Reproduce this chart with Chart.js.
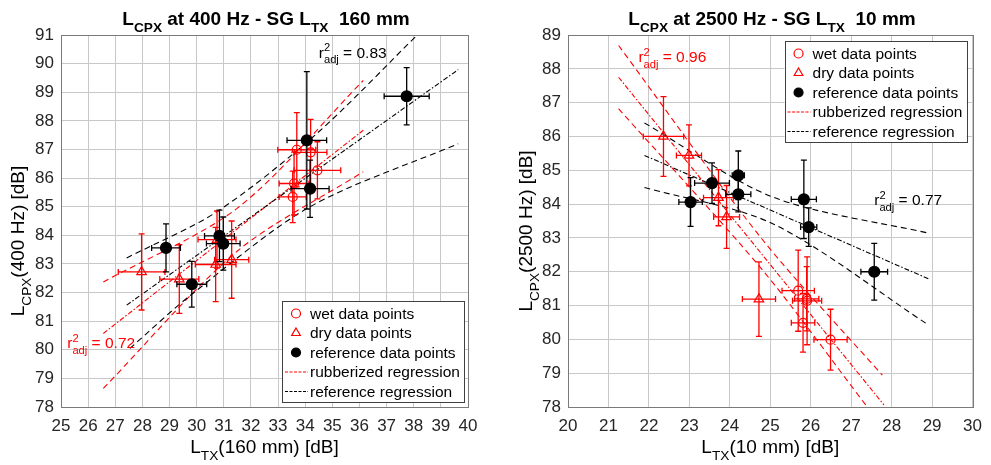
<!DOCTYPE html>
<html>
<head>
<meta charset="utf-8">
<script src="https://cdn.jsdelivr.net/npm/chart.js@4.4.1/dist/chart.umd.min.js"></script>
<style>
	body { margin:0; background:#fff; width:991px; height:465px; overflow:hidden; position:relative; }
	canvas { position:absolute; top:0; }
	#c400 { left:0; }
	#c2500 { left:495px; }
</style>
</head>
<body>
<canvas id="c400" width="495" height="465"></canvas>
<canvas id="c2500" width="496" height="465"></canvas>
<script>
// ---- data: [x, y, x error, y error] ----

// 400 Hz vs L_TX(160 mm)
const wet400 = [
	[33.69, 86.99, 0.70, 1.30],
	[34.20, 86.90, 0.60, 1.15],
	[34.45, 86.27, 0.86, 1.00],
	[33.59, 85.81, 0.55, 1.10],
	[33.54, 85.34, 0.50, 0.90]
];
const dry400 = [
	[27.97, 82.72, 0.86, 1.33],
	[29.36, 82.47, 0.72, 1.20],
	[30.70, 82.98, 0.75, 1.30],
	[31.29, 83.15, 0.63, 1.35],
	[30.75, 83.85, 0.70, 1.00]
];
const ref400 = [
	[28.87, 83.56, 0.53, 0.84],
	[29.82, 82.29, 0.55, 0.80],
	[30.84, 83.98, 0.55, 0.90],
	[30.98, 83.71, 0.62, 0.93],
	[34.06, 87.32, 0.73, 2.40],
	[34.18, 85.63, 0.70, 1.00],
	[37.74, 88.86, 0.83, 1.00]
];
const rubFit400 = [[26.56, 80.57], [36.14, 87.67]];
const rubHi400 = [[26.56, 82.37], [31.5, 84.95], [36.14, 89.41]];
const rubLo400 = [[26.56, 78.65], [31.5, 83.45], [36.14, 86.22]];
const refFit400 = [[27.42, 81.56], [39.64, 89.79]];
const refHi400 = [[27.42, 83.21], [30.74, 84.82], [34.42, 87.55], [38.17, 91.04]];
const refLo400 = [[27.54, 80.05], [29.82, 81.94], [34.18, 85.00], [39.64, 87.20]];

// 2500 Hz vs L_TX(10 mm)
const wet2500 = [
	[25.69, 81.44, 0.40, 1.20],
	[25.91, 81.14, 0.36, 1.30],
	[25.90, 81.20, 0.30, 0.95],
	[25.81, 80.49, 0.29, 0.87],
	[26.49, 79.99, 0.41, 0.90]
];
const dry2500 = [
	[22.36, 86.00, 0.50, 1.18],
	[22.99, 85.44, 0.31, 0.90],
	[23.72, 84.19, 0.37, 0.83],
	[23.92, 83.62, 0.32, 0.93],
	[24.72, 81.19, 0.41, 1.10]
];
const ref2500 = [
	[23.03, 84.06, 0.29, 0.72],
	[23.56, 84.62, 0.43, 0.60],
	[24.21, 84.85, 0.15, 0.72],
	[24.21, 84.29, 0.31, 0.52],
	[25.83, 84.14, 0.31, 1.16],
	[25.95, 83.32, 0.20, 0.57],
	[27.57, 82.00, 0.33, 0.84]
];
const rubFit2500 = [[21.25, 87.75], [27.81, 78.06]];
const rubHi2500 = [[21.25, 88.69], [24.8, 82.96], [27.77, 78.94]];
const rubLo2500 = [[21.25, 86.82], [24.8, 82.06], [27.36, 78.06]];
const refFit2500 = [[21.89, 85.44], [28.95, 81.77]];
const refHi2500 = [[21.89, 86.40], [25.06, 84.21], [28.95, 83.13]];
const refLo2500 = [[21.89, 84.49], [25.06, 83.42], [28.88, 80.45]];

const legendLabels = ['wet data points', 'dry data points', 'reference data points', 'rubberized regression', 'reference regression'];

const RED = '#ff0000';
const BLK = '#000000';
const FONT = "'Liberation Sans', Arial, Helvetica, sans-serif";
const DASH = [6, 4];
const DASHDOT = [5, 2, 1.5, 2];

Chart.defaults.font.family = FONT;

function font(size, bold) {
	return (bold ? 'bold ' : '') + size + 'px ' + FONT;
}

// text with sub/superscripts: plain strings, {sub}, {sup, sub}
function drawRich(ctx, parts, x, y, size, opt) {
	let w = 0, segs = [], ss = size * 0.72;
	parts.forEach((p) => {
		if (typeof p === 'string') {
			ctx.font = font(size, opt.bold);
			segs.push({ t: p, x: w, dy: 0, f: font(size, opt.bold) });
			w += ctx.measureText(p).width;
		} else {
			ctx.font = font(ss, opt.bold);
			let adv = 0;
			if (p.sup) {
				segs.push({ t: p.sup, x: w, dy: -size * 0.42, f: font(ss, opt.bold) });
				adv = Math.max(adv, ctx.measureText(p.sup).width);
			}
			if (p.sub) {
				segs.push({ t: p.sub, x: w, dy: size * 0.36, f: font(ss, opt.bold) });
				adv = Math.max(adv, ctx.measureText(p.sub).width);
			}
			w += adv;
		}
	});
	let x0 = opt.align === 'center' ? x - w / 2 : x;
	ctx.fillStyle = opt.color || '#000';
	ctx.textAlign = 'left';
	ctx.textBaseline = 'alphabetic';
	segs.forEach((s) => {
		ctx.font = s.f;
		ctx.fillText(s.t, x0 + s.x, y + s.dy);
	});
}

function marker(ctx, style, x, y, r, color, filled) {
	ctx.beginPath();
	if (style === 'triangle') {
		let a = 0;
		ctx.moveTo(x + Math.sin(a) * r, y - Math.cos(a) * r);
		a += Math.PI * 2 / 3;
		ctx.lineTo(x + Math.sin(a) * r, y - Math.cos(a) * r);
		a += Math.PI * 2 / 3;
		ctx.lineTo(x + Math.sin(a) * r, y - Math.cos(a) * r);
		ctx.closePath();
	} else {
		ctx.arc(x, y, r, 0, Math.PI * 2);
	}
	if (filled) { ctx.fillStyle = color; ctx.fill(); }
	ctx.strokeStyle = color;
	ctx.lineWidth = 1.2;
	ctx.stroke();
}

const errorBars = {
	id: 'errorBars',
	beforeDatasetDraw(chart, args) {
		let ds = chart.data.datasets[args.index];
		if (!ds.err) return;
		let sx = chart.scales.x, sy = chart.scales.y, ctx = chart.ctx, c = 3;
		ctx.save();
		ctx.strokeStyle = ds.errColor;
		ctx.lineWidth = 1.3;
		ds.err.forEach(([x, y, ex, ey]) => {
			let px = sx.getPixelForValue(x), py = sy.getPixelForValue(y);
			let x0 = sx.getPixelForValue(x - ex), x1 = sx.getPixelForValue(x + ex);
			let y0 = sy.getPixelForValue(y - ey), y1 = sy.getPixelForValue(y + ey);
			ctx.beginPath();
			ctx.moveTo(x0, py); ctx.lineTo(x1, py);
			ctx.moveTo(x0, py - c); ctx.lineTo(x0, py + c);
			ctx.moveTo(x1, py - c); ctx.lineTo(x1, py + c);
			ctx.moveTo(px, y0); ctx.lineTo(px, y1);
			ctx.moveTo(px - c, y0); ctx.lineTo(px + c, y0);
			ctx.moveTo(px - c, y1); ctx.lineTo(px + c, y1);
			ctx.stroke();
		});
		ctx.restore();
	}
};

function pts(a) {
	return a.map((p) => ({ x: p[0], y: p[1] }));
}
function markerSet(label, a, style, color, filled, r) {
	return {
		label, data: pts(a), err: a, errColor: color, showLine: false,
		pointStyle: style, pointRadius: r, pointBorderWidth: 1.2,
		pointBackgroundColor: filled ? color : 'rgba(0,0,0,0)', pointBorderColor: color
	};
}
function lineSet(label, a, color, dash, tension) {
	return {
		label, data: pts(a), showLine: true, borderColor: color, borderWidth: 1.1,
		borderDash: dash, pointRadius: 0, fill: false, tension: tension || 0
	};
}

function makeDecor(p) {
	return {
		id: 'decor',
		afterDatasetsDraw(chart) {
			let ctx = chart.ctx, a = chart.chartArea, sx = chart.scales.x, sy = chart.scales.y;
			ctx.save();
			// axes box
			ctx.strokeStyle = '#7a7a7a';
			ctx.lineWidth = 1;
			ctx.strokeRect(Math.round(a.left) + 0.5, Math.round(a.top) + 0.5,
				Math.round(a.right - a.left), Math.round(a.bottom - a.top));

			// r^2 notes
			p.notes.forEach((n) => {
				drawRich(ctx, ['r', { sup: '2', sub: 'adj' }, n.text],
					sx.getPixelForValue(n.at[0]), sy.getPixelForValue(n.at[1]), 15.5, { color: n.color });
			});

			// legend box
			let w = 182, h = 101;
			let L = p.legend.right ? a.right - p.legend.right - w : a.left + p.legend.left;
			let T = p.legend.bottom ? a.bottom - p.legend.bottom - h : a.top + p.legend.top;
			ctx.fillStyle = '#fff';
			ctx.fillRect(L, T, w, h);
			ctx.strokeStyle = '#404040';
			ctx.strokeRect(Math.round(L) + 0.5, Math.round(T) + 0.5, w, h);
			let rows = [
				{ kind: 'circle', color: RED, filled: false },
				{ kind: 'triangle', color: RED, filled: false },
				{ kind: 'circle', color: BLK, filled: true },
				{ kind: 'line', color: RED },
				{ kind: 'line', color: BLK }
			];
			rows.forEach((r, i) => {
				let cy = T + 12.5 + i * 19.5;
				if (r.kind === 'line') {
					ctx.save();
					ctx.strokeStyle = r.color;
					ctx.lineWidth = 1.1;
					ctx.setLineDash([3, 1.5]);
					ctx.beginPath();
					ctx.moveTo(L + 3, cy);
					ctx.lineTo(L + 26, cy);
					ctx.stroke();
					ctx.restore();
				} else {
					marker(ctx, r.kind, L + 14, cy, r.kind === 'triangle' ? 5 : 4.5, r.color, r.filled);
				}
				ctx.fillStyle = '#000';
				ctx.font = font(15.5);
				ctx.textAlign = 'left';
				ctx.textBaseline = 'middle';
				ctx.fillText(legendLabels[i], L + 28, cy + 1);
			});

			// title and axis labels
			drawRich(ctx, p.title, p.titleX, 25, 19, { bold: true, align: 'center' });
			drawRich(ctx, p.xTitle, (a.left + a.right) / 2, 453, 19, { align: 'center' });
			ctx.translate(p.yTitleX, p.yTitleY);
			ctx.rotate(-Math.PI / 2);
			drawRich(ctx, p.yTitle, 0, 0, 19, { align: 'center' });
			ctx.restore();
		}
	};
}

function makePanel(p) {
	let datasets = [
		markerSet('reference data points', p.ref, 'circle', BLK, true, 5.5),
		markerSet('dry data points', p.dry, 'triangle', RED, false, 5.5),
		markerSet('wet data points', p.wet, 'circle', RED, false, 4.5),
		lineSet('reference regression', p.refFit, BLK, DASHDOT),
		lineSet('reference upper', p.refHi, BLK, DASH, 0.3),
		lineSet('reference lower', p.refLo, BLK, DASH, 0.3),
		lineSet('rubberized regression', p.rubFit, RED, DASHDOT),
		lineSet('rubberized upper', p.rubHi, RED, DASH, 0.3),
		lineSet('rubberized lower', p.rubLo, RED, DASH, 0.3)
	];
	let tickFont = { size: 17, family: FONT };
	return new Chart(document.getElementById(p.id), {
		type: 'scatter',
		data: { datasets },
		plugins: [errorBars, makeDecor(p)],
		options: {
			responsive: false,
			animation: false,
			devicePixelRatio: 1,
			events: [],
			layout: { padding: p.pad },
			plugins: { legend: { display: false }, tooltip: { enabled: false }, title: { display: false } },
			scales: {
				x: {
					type: 'linear', min: p.xMin, max: p.xMax,
					ticks: { stepSize: 1, font: tickFont, color: '#262626', padding: 9, maxRotation: 0, autoSkip: false },
					grid: { color: '#c8c8c8', drawTicks: false },
					border: { display: false },
					afterFit(s) { s.height = p.xH; }
				},
				y: {
					type: 'linear', min: p.yMin, max: p.yMax,
					ticks: { stepSize: 1, font: tickFont, color: '#262626', padding: 7, autoSkip: false },
					grid: { color: '#c8c8c8', drawTicks: false },
					border: { display: false },
					afterFit(s) { s.width = p.yW; }
				}
			}
		}
	});
}

makePanel({
	id: 'c400', xMin: 25, xMax: 40, yMin: 78, yMax: 91,
	wet: wet400, dry: dry400, ref: ref400,
	rubFit: rubFit400, rubHi: rubHi400, rubLo: rubLo400,
	refFit: refFit400, refHi: refHi400, refLo: refLo400,
	pad: { left: 0, top: 35, right: 27, bottom: 0 }, yW: 61, xH: 58,
	title: ['L', { sub: 'CPX' }, ' at 400 Hz - SG L', { sub: 'TX' }, '  160 mm'],
	xTitle: ['L', { sub: 'TX' }, '(160 mm) [dB]'],
	yTitle: ['L', { sub: 'CPX' }, '(400 Hz) [dB]'],
	titleX: 266, yTitleX: 24, yTitleY: 241,
	notes: [
		{ at: [34.5, 90.2], color: BLK, text: ' = 0.83' },
		{ at: [25.23, 80.05], color: RED, text: ' = 0.72' }
	],
	legend: { right: 4, bottom: 5 }
});

makePanel({
	id: 'c2500', xMin: 20, xMax: 30, yMin: 78, yMax: 89,
	wet: wet2500, dry: dry2500, ref: ref2500,
	rubFit: rubFit2500, rubHi: rubHi2500, rubLo: rubLo2500,
	refFit: refFit2500, refHi: refHi2500, refLo: refLo2500,
	pad: { left: 0, top: 35, right: 17, bottom: 0 }, yW: 73, xH: 58,
	title: ['L', { sub: 'CPX' }, ' at 2500 Hz - SG L', { sub: 'TX' }, '  10 mm'],
	xTitle: ['L', { sub: 'TX' }, '(10 mm) [dB]'],
	yTitle: ['L', { sub: 'CPX' }, '(2500 Hz) [dB]'],
	titleX: 277, yTitleX: 37, yTitleY: 231,
	notes: [
		{ at: [21.74, 88.2], color: RED, text: ' = 0.96' },
		{ at: [27.57, 83.96], color: BLK, text: ' = 0.77' }
	],
	legend: { right: 6, top: 6 }
});
</script>
</body>
</html>
